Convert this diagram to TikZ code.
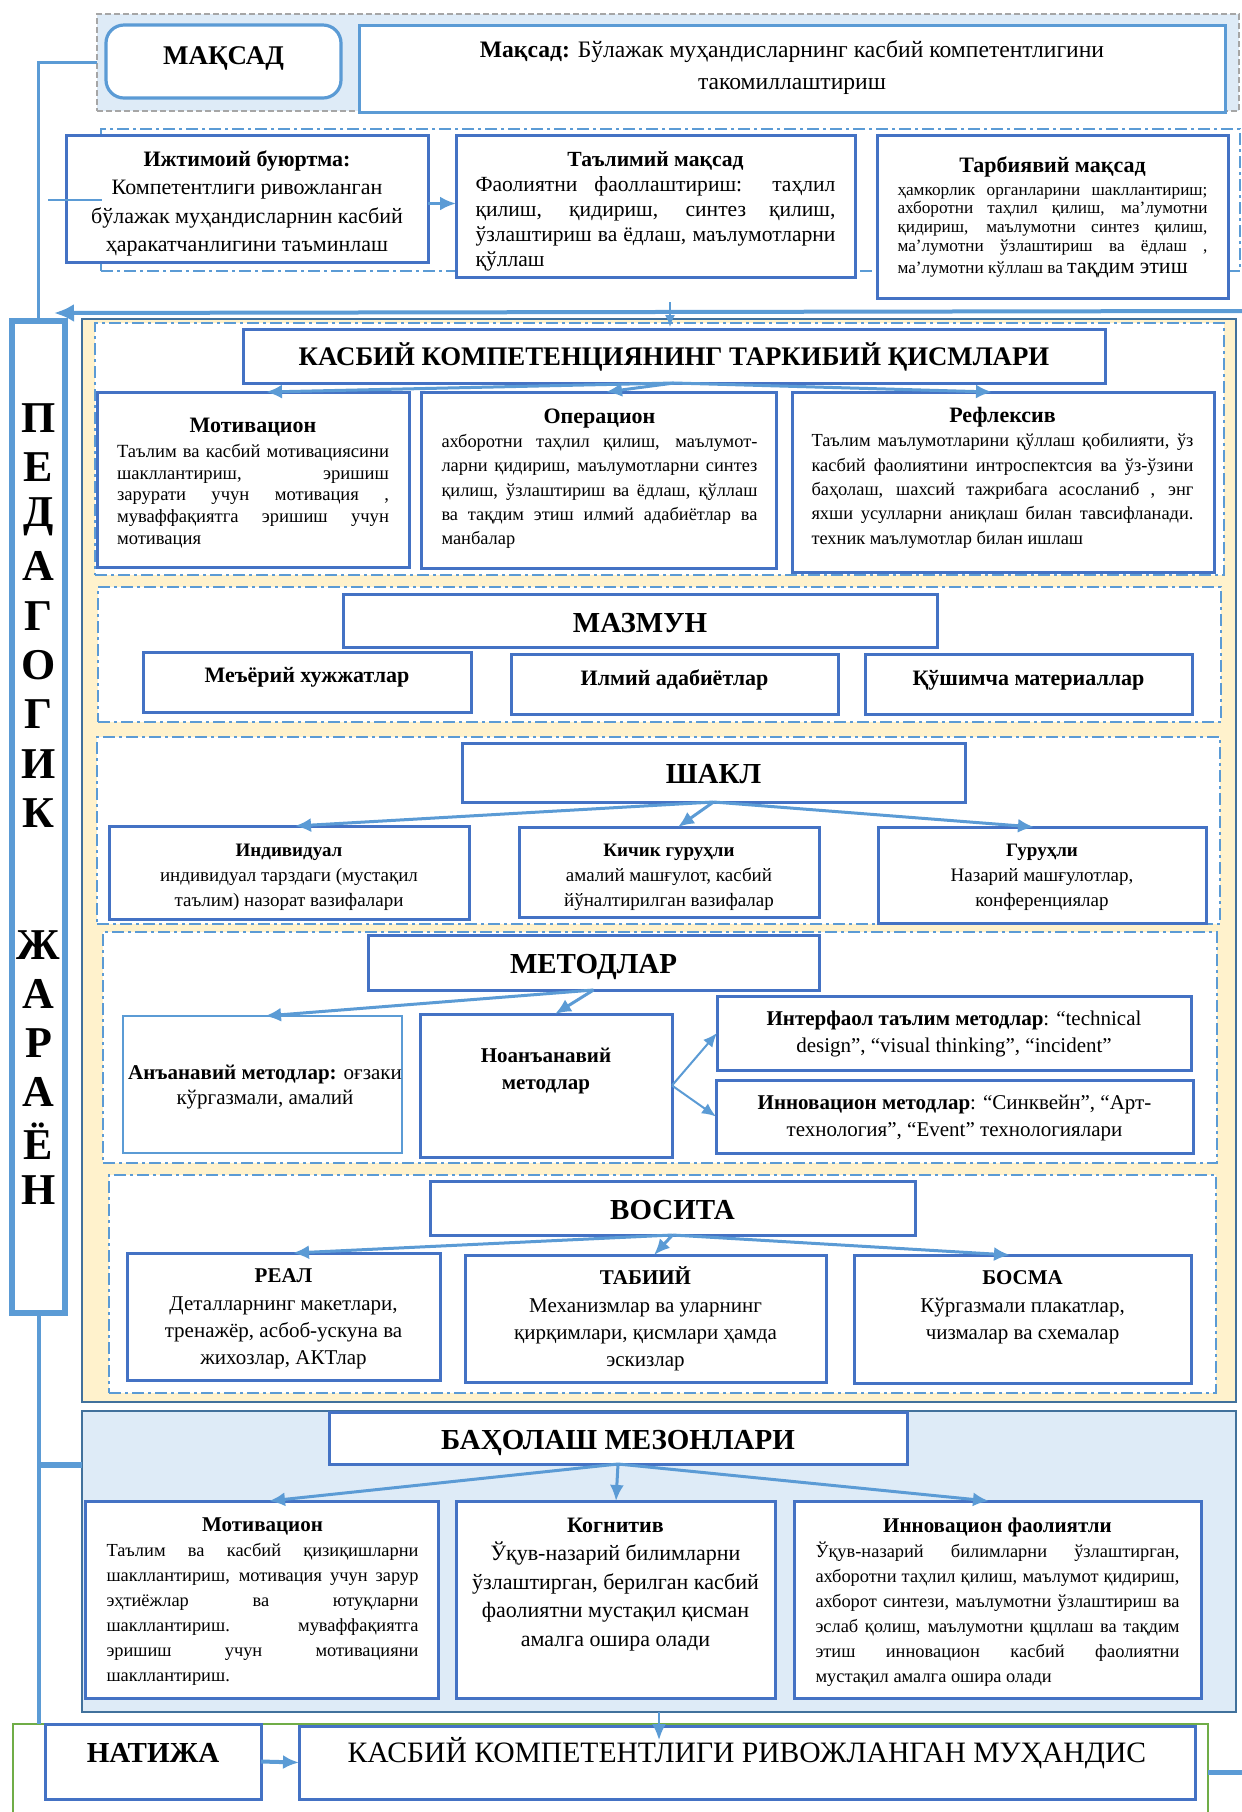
\documentclass[tikz,border=0pt]{standalone}
\usepackage{fontspec}
\setmainfont{Liberation Serif}
\usetikzlibrary{arrows.meta,fit}
\definecolor{lb}{HTML}{5B9BD5}
\definecolor{mb}{HTML}{4472C4}
\definecolor{db}{HTML}{41719C}
\definecolor{yel}{HTML}{FFF2CC}
\definecolor{pale}{HTML}{DEEBF7}
\definecolor{grn}{HTML}{70AD47}
\newcommand{\myfs}[2]{\fontsize{#1}{#2}\selectfont}
\setlength{\parindent}{0pt}
\tolerance=9999 \hbadness=10000 \hyphenpenalty=10000 \emergencystretch=4pt
\begin{document}
\begin{tikzpicture}[x=0.5pt,y=-0.5pt,inner sep=0pt,outer sep=0pt,
 bx/.style={draw=mb, line width=1.5pt, fill=white},
 pnl/.style={draw=lb, line width=1.2pt, fill=white, dash pattern=on 6pt off 2pt on 1.5pt off 2pt},
 arr/.style={draw=lb, line width=1.5pt, -{Latex[length=8pt,width=7pt]}},
 tarr/.style={draw=lb, line width=1pt, -{Latex[length=7pt,width=6pt]}},
 tx/.style={anchor=north, align=center},
 ttl/.style={font=\myfs{14.5}{17}\bfseries},
]
\useasboundingbox (0,0) rectangle (1242,1812);

% ---------- top goal ----------
\node[fit={(97,14) (1239,111)}, draw=gray!70, line width=1.2pt, dash pattern=on 3pt off 1.5pt, fill=pale] (topf) {};
\node[fit={(106,25) (341,98)}, draw=lb, line width=1.6pt, rounded corners=9pt, fill=white] (mq) {};
\node[font=\myfs{13.5}{16}\bfseries] (mqt) at ([yshift=1.5pt]mq.center) {МАҚСАД};
\node[bx, draw=lb, fit={(359,25) (1225,112)}] (goal) {};
\node[align=center, font=\myfs{11.8}{16}] (goalt) at ([yshift=0.5pt]goal.center) {\textbf{Мақсад:} Бўлажак муҳандисларнинг касбий компетентлигини\\ такомиллаштириш};

% ---------- row 2 ----------
\node[pnl, fill=none, fit={(101,129) (1240,271)}] (f2) {};
\node[bx, fit={(66,135) (428,262)}] (ijt) {};
\node[align=center, font=\myfs{11}{14.2}] (ijtt) at ([yshift=-2.5pt]ijt.center) {\textbf{Ижтимоий буюртма:}\\ Компетентлиги ривожланган\\ бўлажак муҳандисларнин касбий\\ ҳаракатчанлигини таъминлаш};
\node[bx, fit={(456,135) (855,277)}] (tal) {};
\node[tx, text width=180pt, align=justify, font=\myfs{10.8}{12.4}] (talt) at (655.5,152) {\makebox[\hsize]{\bfseries Таълимий мақсад}\par Фаолиятни фаоллаштириш: таҳлил\linebreak қилиш, қидириш, синтез қилиш,\linebreak ўзлаштириш ва ёдлаш, маълумотларни\linebreak қўллаш};
\node[bx, fit={(877,135) (1228,298)}] (tarb) {};
\node[tx, text width=155pt, align=justify, font=\myfs{8.6}{9.3}] (tarbt) at (1052.5,157) {\makebox[\hsize]{\myfs{11}{9.3}\bfseries Тарбиявий мақсад}\par\vskip 2pt ҳамкорлик органларини шакллантириш;\linebreak ахборотни таҳлил қилиш, ма'лумотни\linebreak қидириш, маълумотни синтез қилиш,\linebreak ма'лумотни ўзлаштириш ва ёдлаш ,\vadjust{\vskip 2pt}\linebreak ма'лумотни кўллаш ва {\myfs{11}{9.3}тақдим этиш}};
\coordinate (a1) at ([yshift=-2.5pt]ijt.east);
\draw[arr] (a1) -- (a1 -| tal.west);
\coordinate (s1) at (48,200); \coordinate (s2) at (102,200);
\draw[lb, line width=0.8pt] (s1) -- (s2);

% ---------- yellow panel ----------
\node[fit={(82,319) (1236,1402)}, draw=db, line width=1.2pt, fill=yel] (yp) {};

% КАСБИЙ
\node[pnl, fit={(95,323) (1224,575)}] (kp) {};
\node[bx, fit={(243,329) (1105,383)}] (kt) {};
\node[font=\myfs{13.4}{16}\bfseries] (ktt) at ([yshift=-0.5pt]kt.center) {КАСБИЙ КОМПЕТЕНЦИЯНИНГ ТАРКИБИЙ ҚИСМЛАРИ};
\node[bx, fit={(97,392) (409,567)}] (k1) {};
\node[tx, text width=136pt, align=justify, font=\myfs{9.3}{10.9}] (k1t) at (253,418) {\makebox[\hsize]{\myfs{11}{10.9}\bfseries Мотивацион}\par\vskip 1.5pt Таълим ва касбий мотивациясини\linebreak шакллантириш, эришиш\linebreak зарурати учун мотивация ,\linebreak муваффақиятга эришиш учун\linebreak мотивация};
\node[bx, fit={(421,392) (776,568)}] (k2) {};
\node[tx, text width=158pt, align=justify, font=\myfs{9.2}{12.1}] (k2t) at (599.5,409) {\makebox[\hsize]{\myfs{11}{12.1}\bfseries Операцион}\par ахборотни таҳлил қилиш, маълумот-\linebreak ларни қидириш, маълумотларни синтез\linebreak қилиш, ўзлаштириш ва ёдлаш, қўллаш\linebreak ва тақдим этиш илмий адабиётлар ва\linebreak манбалар};
\node[bx, fit={(792,392) (1214,572)}] (k3) {};
\node[tx, text width=191pt, align=justify, font=\myfs{9.2}{12.2}] (k3t) at (1002.5,407) {\makebox[\hsize]{\myfs{11}{12.2}\bfseries Рефлексив}\par Таълим маълумотларини қўллаш қобилияти, ўз\linebreak касбий фаолиятини интроспектсия ва ўз-ўзини\linebreak баҳолаш, шахсий тажрибага асосланиб , энг\linebreak яхши усулларни аниқлаш билан тавсифланади.\linebreak техник маълумотлар билан ишлаш};
\draw[arr] (kt.south) -- ([xshift=84.5pt]k1.north west);
\draw[arr] (kt.south) -- ([xshift=92.5pt]k2.north west);
\draw[arr] (kt.south) -- ([xshift=100pt]k3.north west);

% МАЗМУН
\node[pnl, fit={(98,587) (1221,722)}] (mp) {};
\node[bx, fit={(343,594) (937,647)}] (mt) {};
\node[ttl] (mtt) at ([yshift=-1.5pt]mt.center) {МАЗМУН};
\node[bx, fit={(143,652) (471,712)}] (m1) {};
\node[font=\myfs{11}{13}\bfseries] (m1t) at ([yshift=2.5pt]m1.center) {Меъёрий хужжатлар};
\node[bx, fit={(511,654) (838,714)}] (m2) {};
\node[font=\myfs{11}{13}\bfseries] (m2t) at ([yshift=2pt]m2.center) {Илмий адабиётлар};
\node[bx, fit={(865,654) (1192,714)}] (m3) {};
\node[font=\myfs{11}{13}\bfseries] (m3t) at ([yshift=2pt]m3.center) {Қўшимча материаллар};

% ШАКЛ
\node[pnl, fit={(97,737) (1220,924)}] (sp) {};
\node[bx, fit={(462,743) (965,802)}] (st) {};
\node[ttl] (stt) at ([yshift=-0.8pt]st.center) {ШАКЛ};
\node[bx, fit={(109,826) (469,919)}] (s1b) {};
\node[tx, font=\myfs{9.5}{12.5}] (s1t) at (289,844) {\textbf{Индивидуал}\\ индивидуал тарздаги (мустақил\\ таълим) назорат вазифалари};
\node[bx, fit={(519,827) (819,917)}] (s2b) {};
\node[tx, font=\myfs{9.5}{12.5}] (s2t) at (669,844) {\textbf{Кичик гуруҳли}\\ амалий машғулот, касбий\\ йўналтирилган вазифалар};
\node[bx, fit={(878,827) (1206,923)}] (s3b) {};
\node[tx, font=\myfs{9.5}{12.5}] (s3t) at (1042,844) {\textbf{Гуруҳли}\\ Назарий машғулотлар,\\ конференциялар};
\draw[arr] (st.south) -- ([xshift=93pt]s1b.north west);
\draw[arr] (st.south) -- ([xshift=79.5pt]s2b.north west);
\draw[arr] (st.south) -- ([xshift=78pt]s3b.north west);

% МЕТОДЛАР
\node[pnl, fit={(103,932) (1217,1163)}] (ep) {};
\node[bx, fit={(368,935) (819,990)}] (et) {};
\node[ttl] (ett) at ([yshift=-2.2pt]et.center) {МЕТОДЛАР};
\node[bx, draw=lb, line width=1.3pt, fit={(123,1016) (402,1153)}] (e1) {};
\node[font=\myfs{10.5}{12.5}, align=center] (e1t) at (265,1087) {\textbf{Анъанавий методлар:} оғзаки\\ кўргазмали, амалий};
\node[bx, fit={(420,1014) (672,1157)}] (e2) {};
\node[font=\myfs{10.5}{13.5}\bfseries, align=center] (e2t) at (546,1071) {Ноанъанавий\\ методлар};
\node[bx, fit={(717,996) (1191,1070)}] (e3) {};
\node[align=center, font=\myfs{10.5}{13.8}] (e3t) at ([yshift=-0.5pt]e3.center) {\textbf{Интерфаол таълим методлар}: “technical\\ design”, “visual thinking”, “incident”};
\node[bx, fit={(716,1080) (1193,1153)}] (e4) {};
\node[align=center, font=\myfs{10.5}{13.8}] (e4t) at ([yshift=-0.7pt]e4.center) {\textbf{Инновацион методлар}: “Синквейн”, “Арт-\\ технология”, “Event” технологиялари};
\draw[arr] (et.south) -- ([xshift=71pt]e1.north west);
\draw[arr] (et.south) -- ([xshift=67.5pt]e2.north west);
\draw[tarr] (e2.east) -- (e3.west);
\draw[tarr] (e2.east) -- (e4.west);

% ВОСИТА
\node[pnl, fit={(109,1175) (1216,1393)}] (vp) {};
\node[bx, fit={(430,1181) (915,1235)}] (vt) {};
\node[ttl] (vtt) at ([yshift=-1.2pt]vt.center) {ВОСИТА};
\node[bx, fit={(127,1253) (440,1380)}] (v1) {};
\node[tx, font=\myfs{10.5}{13.6}] (v1t) at (283.5,1269) {\textbf{РЕАЛ}\\ Деталларнинг макетлари,\\ тренажёр, асбоб-ускуна ва\\ жихозлар, АКТлар};
\node[bx, fit={(465,1255) (826,1382)}] (v2) {};
\node[tx, font=\myfs{10.5}{13.6}] (v2t) at (645.5,1267) {\textbf{ТАБИИЙ}\\ Механизмлар ва уларнинг\\ қирқимлари, қисмлари ҳамда\\ эскизлар};
\node[bx, fit={(854,1255) (1191,1383)}] (v3) {};
\node[tx, font=\myfs{10.5}{13.6}] (v3t) at (1022.5,1271) {\textbf{БОСМА}\\ Кўргазмали плакатлар,\\ чизмалар ва схемалар};
\draw[arr] (vt.south) -- ([xshift=83pt]v1.north west);
\draw[arr] (vt.south) -- ([xshift=94.5pt]v2.north west);
\draw[arr] (vt.south) -- ([xshift=78pt]v3.north west);

% ---------- БАҲОЛАШ ----------
\node[fit={(82,1411) (1236,1712)}, draw=db, line width=1.2pt, fill=pale] (bp) {};
\node[bx, fit={(329,1412) (907,1464)}] (bt) {};
\node[ttl] (btt) at ([yshift=-2.5pt]bt.center) {БАҲОЛАШ МЕЗОНЛАРИ};
\node[bx, fit={(85,1501) (438,1698)}] (b1) {};
\node[tx, text width=156pt, align=justify, font=\myfs{9.2}{12.5}] (b1t) at (262.5,1517.5) {\makebox[\hsize]{\myfs{10.5}{12.5}\bfseries Мотивацион}\par Таълим ва касбий қизиқишларни\linebreak шакллантириш, мотивация учун зарур\linebreak эҳтиёжлар ва ютуқларни\linebreak шакллантириш. муваффақиятга\linebreak эришиш учун мотивацияни\linebreak шакллантириш.};
\node[bx, fit={(456,1501) (775,1698)}] (b2) {};
\node[tx, font=\myfs{11}{14.2}] (b2t) at (615.5,1518) {\textbf{Когнитив}\\ Ўқув-назарий билимларни\\ ўзлаштирган, берилган касбий\\ фаолиятни мустақил қисман\\ амалга ошира олади};
\node[bx, fit={(794,1501) (1201,1698)}] (b3) {};
\node[tx, text width=182pt, align=justify, font=\myfs{9.2}{12.5}] (b3t) at (997.5,1517.5) {\makebox[\hsize]{\myfs{10.5}{12.5}\bfseries Инновацион фаолиятли}\par Ўқув-назарий билимларни ўзлаштирган,\linebreak ахборотни таҳлил қилиш, маълумот қидириш,\linebreak ахборот синтези, маълумотни ўзлаштириш ва\linebreak эслаб қолиш, маълумотни қщллаш ва тақдим\linebreak этиш инновацион касбий фаолиятни\linebreak мустақил амалга ошира олади};
\draw[arr] (bt.south) -- ([xshift=92pt]b1.north west);
\draw[arr] (bt.south) -- ([xshift=80pt]b2.north west);
\draw[arr] (bt.south) -- ([xshift=97.5pt]b3.north west);

% ---------- НАТИЖА ----------
\node[fit={(13,1724) (1208,1812)}] (gf) {};
\draw[grn, line width=1.2pt] (gf.south west) -- (gf.north west) -- (gf.north east) -- (gf.south east);
\node[bx, fit={(45,1724) (261,1799)}] (n1) {};
\node[font=\myfs{14.5}{17}\bfseries] (n1t) at ([yshift=4.5pt]n1.center) {НАТИЖА};
\node[bx, fit={(299,1726) (1195,1799)}] (n2) {};
\node[font=\myfs{14.8}{17}] (n2t) at ([yshift=4.5pt]n2.center) {КАСБИЙ КОМПЕТЕНТЛИГИ РИВОЖЛАНГАН МУҲАНДИС};
\draw[arr, line width=2pt] (n1.east) -- (n2.west);
\path (bp.south |- n2.north) ++(0,14) coordinate (bd);
\draw[arr, line width=1.2pt] (bp.south) -- (bd);
\coordinate (rs) at (1242,1772);
\draw[lb, line width=2.5pt] (gf.east |- rs) -- (rs);

% ---------- ПЕДАГОГИК ЖАРАЁН ----------
\node[fit={(12,321) (65,1313)}, draw=lb, line width=3pt, fill=white] (ped) {};
\foreach \ch/\yy [count=\i] in {П/418,Е/467,Д/517,А/566,Г/616,О/665,Г/714,И/764,К/813,Ж/945,А/994,Р/1043,А/1092,Ё/1141,Н/1190}
  \node[font=\myfs{22}{24}\bfseries] (pl\i) at (38.5,\yy) {\ch};
\draw[lb, line width=1.3pt] (topf.west) -- (topf.west -| ped.north) -- (ped.north);
\coordinate (ta) at (1242,311); \coordinate (tb) at (54,313);
\draw[lb, line width=2pt, -{Latex[length=10pt,width=9pt]}] (ta) -- (tb);
\coordinate (da1) at (670,302); \coordinate (da2) at (670,327);
\draw[lb, line width=0.9pt, -{Latex[length=6pt,width=5pt]}] (da1) -- (da2);
\coordinate (bl) at (41,1465);
\draw[lb, line width=2pt] (ped.south) -- (ped.south |- gf.north);
\draw[lb, line width=3pt] (ped.south |- bl) -- (bp.west |- bl);
\end{tikzpicture}
\end{document}
